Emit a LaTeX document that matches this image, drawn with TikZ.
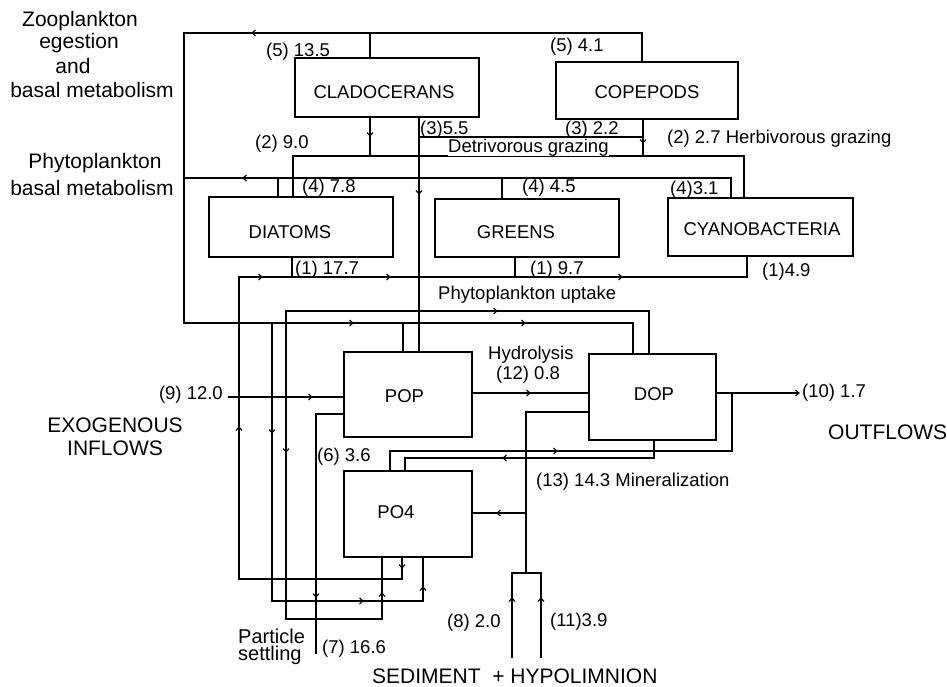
\documentclass[tikz,border=0pt]{standalone}
\usepackage{fontspec}
\setmainfont{Liberation Sans}
\usetikzlibrary{calc}
\tikzset{
  box/.style={draw, line width=1.5pt, inner sep=0pt},
  boxtext/.style={inner sep=0pt, font=\fontsize{18.5}{20}\selectfont},
  flow/.style={line width=1.2pt},
  lbl/.style={inner sep=0pt, anchor=base west, font=\fontsize{18.5}{20}\selectfont},
  big/.style={inner sep=0pt, anchor=base, font=\fontsize{21}{24}\selectfont},
  chev/.pic={\draw[line width=1.1pt] (-3.5,-3) -- (0,0) -- (-3.5,3);}
}
\begin{document}
\begin{tikzpicture}[x=1pt,y=-1pt]
\useasboundingbox (0,0) rectangle (947,686);
% boxes
\node[box, minimum width=184pt, minimum height=59pt] (clad) at (387,87.5) {};
\node[box, minimum width=182pt, minimum height=57pt] (cope) at (647,90.5) {};
\node[box, minimum width=184pt, minimum height=60pt] (diat) at (301,227) {};
\node[box, minimum width=184pt, minimum height=58pt] (green) at (527,228) {};
\node[box, minimum width=185pt, minimum height=58pt] (cyano) at (760.5,227) {};
\node[box, minimum width=128pt, minimum height=85pt] (pop) at (408,394.5) {};
\node[box, minimum width=127pt, minimum height=86pt] (dop) at (652.5,397) {};
\node[box, minimum width=128pt, minimum height=86pt] (po4) at (408,514) {};
% box texts
\node[boxtext] (cladT) at (384,92.5) {CLADOCERANS};
\node[boxtext] (copeT) at (647,92) {COPEPODS};
\node[boxtext] (diatT) at (290,232) {DIATOMS};
\node[boxtext] (greenT) at (516,232) {GREENS};
\node[boxtext] (cyanoT) at (762,229) {CYANOBACTERIA};
\node[boxtext] (popT) at (404.5,396) {POP};
\node[boxtext] (dopT) at (654,394) {DOP};
\node[boxtext] (po4T) at (396,512) {PO4};

% zooplankton egestion and basal metabolism
\draw[flow] (cope.north -| 642,0) -- (642,33) -- (184,33) -- (184,323) -- (633,323) -- (dop.north -| 633,0);
\draw[flow] (370,33) -- (clad.north -| 370,0);
\draw[flow] (272,323) -- (272,601) -- (423,601) -- (po4.south -| 423,0);
\draw[flow] (403,323) -- (pop.north -| 403,0);
% phytoplankton basal metabolism
\draw[flow] (cyano.north -| 731,0) -- (731,178) -- (184,178);
\draw[flow] (278,178) -- (diat.north -| 278,0);
\draw[flow] (502,178) -- (green.north -| 502,0);
% herbivorous grazing
\draw[flow] (clad.south -| 370,0) -- (370,156);
\draw[flow] (cope.south -| 643,0) -- (643,156);
\draw[flow] (diat.north -| 293,0) -- (293,156) -- (744,156) -- (cyano.north -| 744,0);
% detrivorous grazing
\draw[flow] (clad.south -| 419,0) -- (pop.north -| 419,0);
\draw[flow] (419,137) -- (643,137);
\fill (419,178) circle (1.6);
\fill (419,311) circle (1.6);
% phytoplankton uptake
\draw[flow] (po4.south -| 402,0) -- (402,579) -- (239,579) -- (239,277) -- (747,277) -- (cyano.south -| 747,0);
\draw[flow] (292,277) -- (diat.south -| 292,0);
\draw[flow] (515,277) -- (green.south -| 515,0);
% second loop to DOP and PO4
\draw[flow] (dop.north -| 649,0) -- (649,311) -- (286,311) -- (286,619) -- (382,619) -- (po4.south -| 382,0);
% inflow
\coordinate (inW) at (228,397);
\draw[flow] (inW) -- (pop.west |- 0,397);
% hydrolysis
\draw[flow] (pop.east |- 0,393) -- (dop.west |- 0,393);
% outflow
\coordinate (outE) at (799,393);
\draw[flow] (dop.east |- 0,393) -- (outE);
\draw[flow] (po4.north -| 390,0) -- (390,451) -- (732,451) -- (732,393);
% mineralization
\draw[flow] (dop.south -| 654,0) -- (654,458) -- (405,458) -- (po4.north -| 405,0);
% sediment
\coordinate (sedA) at (512,658);
\coordinate (sedB) at (541,658);
\draw[flow] (sedA) -- (512,573) -- (541,573) -- (sedB);
\draw[flow] (526,573) -- (526,412) -- (dop.west |- 0,412);
\draw[flow] (526,513) -- (po4.east |- 0,513);
% particle settling
\coordinate (setl) at (316,654);
\draw[flow] (pop.west |- 0,414) -- (316,414) -- (setl);

% arrowheads
\foreach \x/\y/\r in {252/33/180, 353/323/0, 525/323/0, 272/433/-90, 363/601/0, 423/587/90,
  243/178/180, 370/136/-90, 643/143/-90, 419/194/-90,
  402/568/-90, 239/427/90, 262/277/0, 390/277/0, 622/277/0,
  497/311/0, 286/452/-90, 382/593/90,
  312/397/0, 530/393/0, 799/393/0, 557/451/0, 503/458/180,
  512/598/90, 541/598/90, 497/513/180, 316/597/-90}
  \pic[rotate=\r] at (\x,\y) {chev};

% labels
\node[lbl] (l1) at (266,56) {(5) 13.5};
\node[lbl] (l2) at (550,51.5) {(5) 4.1};
\node[lbl] (l3) at (255,148) {(2) 9.0};
\node[lbl] (l4) at (420,134) {(3)5.5};
\node[lbl] (l5) at (565,134) {(3) 2.2};
\node[lbl, fill=white, inner ysep=0.5pt] (l6) at (448,152) {Detrivorous grazing};
\node[lbl] (l7) at (667,143) {(2) 2.7 Herbivorous grazing};
\node[lbl] (l8) at (302,192) {(4) 7.8};
\node[lbl] (l9) at (522,192) {(4) 4.5};
\node[lbl] (l10) at (670,194) {(4)3.1};
\node[lbl] (l11) at (295,274) {(1) 17.7};
\node[lbl] (l12) at (530,274) {(1) 9.7};
\node[lbl] (l13) at (762,276) {(1)4.9};
\node[lbl] (l14) at (438,299) {Phytoplankton uptake};
\node[lbl] (l15) at (488,359) {Hydrolysis};
\node[lbl] (l16) at (496,379) {(12) 0.8};
\node[lbl, anchor=base east] (l17) at (223,399) {(9) 12.0};
\node[lbl] (l18) at (317,461) {(6) 3.6};
\node[lbl] (l19) at (536,486) {(13) 14.3 Mineralization};
\node[lbl] (l20) at (802,397) {(10) 1.7};
\node[lbl] (l21) at (322,653) {(7) 16.6};
\node[lbl] (l22) at (447,627) {(8) 2.0};
\node[lbl] (l23) at (550,626) {(11)3.9};

\node[big] (z1) at (80,26) {Zooplankton};
\node[big] (z2) at (79,48) {egestion};
\node[big] (z3) at (73,73) {and};
\node[big] (z4) at (92,97.5) {basal metabolism};
\node[big] (p1) at (95,168) {Phytoplankton};
\node[big] (p2) at (92,195) {basal metabolism};
\node[big] (e1) at (115,432) {EXOGENOUS};
\node[big] (e2) at (115,455) {INFLOWS};
\node[big, anchor=base west] (o1) at (828,439) {OUTFLOWS};
\node[big, anchor=base west, align=left, font=\fontsize{20}{16.5}\selectfont] (s1) at (238,660) {Particle\\settling};
\node[big, anchor=base west] (sed) at (372,683) {SEDIMENT~~+ HYPOLIMNION};
\end{tikzpicture}
\end{document}
